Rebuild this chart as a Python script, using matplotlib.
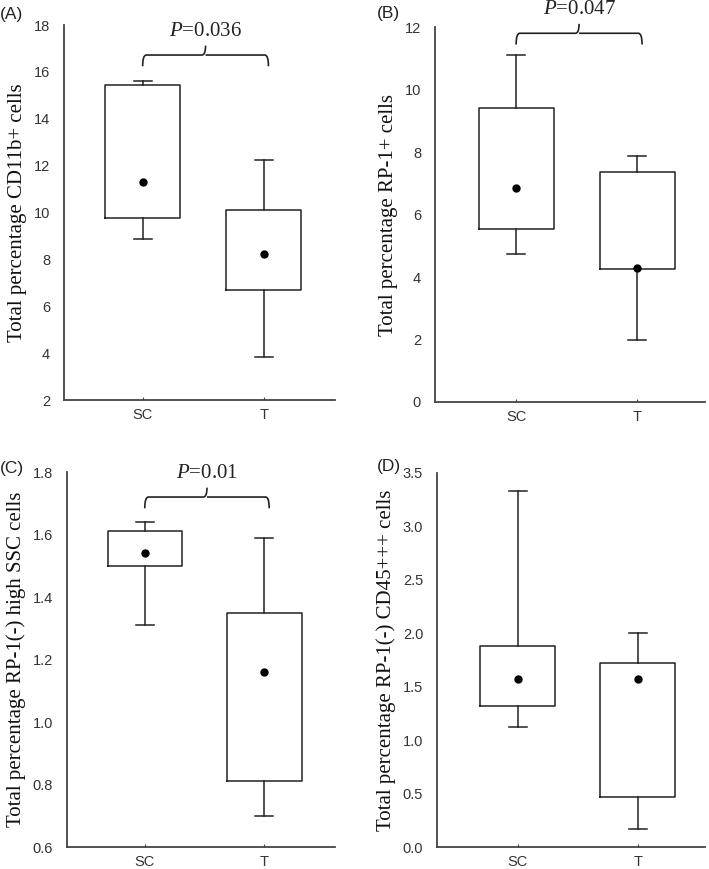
import matplotlib.pyplot as plt
from matplotlib.path import Path
from matplotlib.patches import PathPatch

plt.rcParams["mathtext.fontset"] = "custom"
plt.rcParams["mathtext.it"] = "Liberation Serif:italic"
plt.rcParams["mathtext.rm"] = "Liberation Serif"

groups = ["SC", "T"]
panel_tags = ["(A)", "(B)", "(C)", "(D)"]
ylabels = [
    "Total percentage CD11b+ cells",
    "Total percentage RP-1+ cells",
    "Total percentage RP-1(-) high SSC cells",
    "Total percentage RP-1(-) CD45+++ cells",
]

# whisker low, q1, centre dot, q3, whisker high -- per panel, per group
a_sc = [8.85, 9.75, 11.3, 15.45, 15.6]
a_t = [3.85, 6.7, 8.25, 10.1, 12.25]
b_sc = [4.75, 5.55, 6.85, 9.4, 11.1]
b_t = [1.97, 4.25, 4.3, 7.35, 7.87]
c_sc = [1.31, 1.50, 1.54, 1.61, 1.64]
c_t = [0.70, 0.81, 1.16, 1.35, 1.59]
d_sc = [1.12, 1.32, 1.57, 1.88, 3.33]
d_t = [0.17, 0.47, 1.57, 1.72, 2.00]

ylims = [(2, 18), (0, 12), (0.6, 1.8), (0.0, 3.5)]
yticks = [
    [2, 4, 6, 8, 10, 12, 14, 16, 18],
    [0, 2, 4, 6, 8, 10, 12],
    [0.6, 0.8, 1.0, 1.2, 1.4, 1.6, 1.8],
    [0.0, 0.5, 1.0, 1.5, 2.0, 2.5, 3.0, 3.5],
]
ytick_fmt = ["{:g}", "{:g}", "{:.1f}", "{:.1f}"]
pvals = ["0.036", "0.047", "0.01", None]
bracket_y = [16.72, 11.8, 1.72, None]

data = [(a_sc, a_t), (b_sc, b_t), (c_sc, c_t), (d_sc, d_t)]

axes_rect = [
    [0.0903, 0.5397, 0.3822, 0.4315],
    [0.6135, 0.5374, 0.3809, 0.4315],
    [0.0945, 0.0253, 0.3780, 0.4315],
    [0.6164, 0.0253, 0.3780, 0.4304],
]
xlims = [(0.35, 2.59), (0.33, 2.56), (0.35, 2.59), (0.33, 2.56)]
tag_pos = [(0.0, 0.983), (0.532, 0.985), (0.0, 0.461), (0.531, 0.463)]

spine_col = "#444444"
tick_col = "#333333"

fig = plt.figure(figsize=(7.09, 8.69), dpi=100)

for i in range(4):
    ax = fig.add_axes(axes_rect[i])
    stats = []
    for g, vals in zip(groups, data[i]):
        lo, q1, mid, q3, hi = vals
        stats.append(dict(label=g, whislo=lo, q1=q1, med=mid, mean=mid,
                          q3=q3, whishi=hi, fliers=[]))
    ax.bxp(stats, positions=[1, 2], widths=0.62, showmeans=True,
           showfliers=False, patch_artist=False,
           boxprops=dict(color="#222222", linewidth=1.1),
           whiskerprops=dict(color="#222222", linewidth=1.1),
           capprops=dict(color="#222222", linewidth=1.1),
           capwidths=0.15,
           medianprops=dict(visible=False),
           meanprops=dict(marker="o", markerfacecolor="black",
                          markeredgecolor="black", markersize=5))
    ax.set_xlim(*xlims[i])
    ax.set_ylim(*ylims[i])
    ax.set_yticks(yticks[i])
    ax.set_yticklabels([ytick_fmt[i].format(v) for v in yticks[i]])
    ax.set_xticks([1, 2])
    ax.set_xticklabels(groups)
    for s in ["top", "right"]:
        ax.spines[s].set_visible(False)
    for s in ["left", "bottom"]:
        ax.spines[s].set_color(spine_col)
        ax.spines[s].set_linewidth(1.3)
    ax.tick_params(axis="y", length=0, pad=10, labelsize=10.5,
                   labelcolor=tick_col, labelfontfamily="Liberation Sans")
    ax.tick_params(axis="x", direction="in", length=2, color=spine_col,
                   pad=6, labelsize=10.5, labelcolor=tick_col,
                   labelfontfamily="Liberation Sans")
    ax.set_ylabel(ylabels[i], family="Liberation Serif", fontsize=15,
                  color="#111111", labelpad=5)
    fig.text(tag_pos[i][0], tag_pos[i][1], panel_tags[i],
             family="Liberation Sans", fontsize=12.5, va="center",
             color="#222222")

    if pvals[i] is not None:
        yb = bracket_y[i]
        span = ylims[i][1] - ylims[i][0]
        drop = 0.03 * span
        rise = 0.025 * span
        x0, x1 = 1.0, 2.04
        xm = (x0 + x1) / 2
        r = 0.03
        verts = [
            (x0, yb - drop), (x0, yb), (x0 + r, yb),
            (xm - r, yb), (xm, yb), (xm, yb + rise),
            (xm, yb), (xm + r, yb),
            (x1 - r, yb), (x1, yb), (x1, yb - drop),
        ]
        codes = [Path.MOVETO, Path.CURVE3, Path.CURVE3,
                 Path.LINETO, Path.CURVE3, Path.CURVE3,
                 Path.MOVETO, Path.LINETO,
                 Path.LINETO, Path.CURVE3, Path.CURVE3]
        ax.add_patch(PathPatch(Path(verts, codes), fill=False,
                               color="#222222", linewidth=1.2,
                               clip_on=False))
        ax.text(xm, yb + rise + 0.012 * span, "$\\it{P}$=" + pvals[i],
                ha="center", va="bottom", fontsize=15,
                family="Liberation Serif", color="#222222", clip_on=False)

fig.savefig("out.png", dpi=100)
